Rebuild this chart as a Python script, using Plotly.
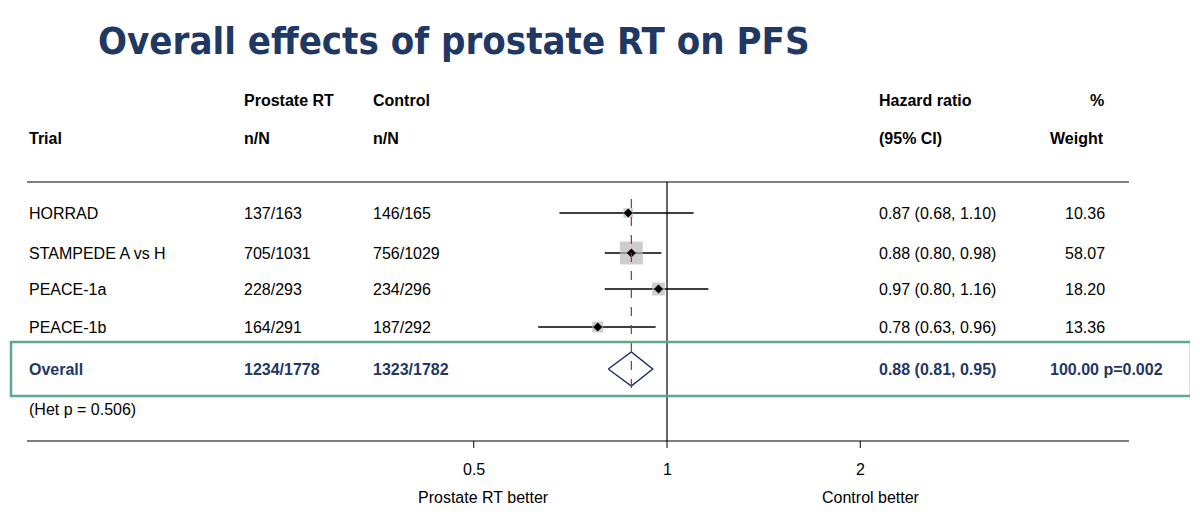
import plotly.graph_objects as go
import math

trials = ["HORRAD", "STAMPEDE A vs H", "PEACE-1a", "PEACE-1b"]
rt_nN = ["137/163", "705/1031", "228/293", "164/291"]
ctl_nN = ["146/165", "756/1029", "234/296", "187/292"]
hr = [0.87, 0.88, 0.97, 0.78]
lo = [0.68, 0.80, 0.80, 0.63]
hi = [1.10, 0.98, 1.16, 0.96]
weight = [10.36, 58.07, 18.20, 13.36]
overall = {"name": "Overall", "rt": "1234/1778", "ctl": "1323/1782",
           "hr": 0.88, "lo": 0.81, "hi": 0.95, "w": 100.00, "p": "p=0.002"}
het_text = "(Het p = 0.506)"
ticks = [0.5, 1, 2]

row_y = [214, 254, 290, 328]
oy = 370
OFF = 9  # page body margin
W, H = 1200 - 2 * OFF, 525 - 2 * OFF
NAVY = "#1f3864"
FONT = "Liberation Sans, Arial, sans-serif"

def px(x):
    return (x - OFF) / W

fig = go.Figure()
xs, ys = [], []
for l, h, y in zip(lo, hi, row_y):
    xs += [l, h, None]; ys += [y, y, None]
fig.add_trace(go.Scatter(x=xs, y=ys, mode="lines", line=dict(color="black", width=1.5), hoverinfo="skip"))
fig.add_trace(go.Scatter(x=hr, y=row_y, mode="markers",
                         marker=dict(symbol="square", color="#b8b8b8", size=[3.0 * math.sqrt(w) for w in weight], line=dict(width=0))))
fig.add_trace(go.Scatter(x=hr, y=row_y, mode="markers",
                         marker=dict(symbol="diamond", color="black", size=7)))
fig.add_trace(go.Scatter(x=[overall["lo"], overall["hr"], overall["hi"], overall["hr"], overall["lo"]],
                         y=[oy, oy - 17, oy, oy + 17, oy], mode="lines",
                         line=dict(color=NAVY, width=1.5)))

shapes = [
    dict(type="line", xref="paper", yref="y", x0=px(28), x1=px(1130), y0=183, y1=183, line=dict(color="black", width=1.2)),
    dict(type="line", xref="paper", yref="y", x0=px(28), x1=px(1130), y0=442, y1=442, line=dict(color="black", width=1.2)),
    dict(type="line", xref="x", yref="y", x0=1, x1=1, y0=183, y1=442, line=dict(color="black", width=1.2)),
    dict(type="line", xref="x", yref="y", x0=overall["hr"], x1=overall["hr"], y0=200, y1=392,
         line=dict(color="#a03030", width=1.2, dash="dash")),
    dict(type="rect", xref="paper", yref="y", x0=px(12), x1=px(1192), y0=343, y1=397, line=dict(color="#5aab8a", width=2.5)),
]
for t in ticks:
    shapes.append(dict(type="line", xref="x", yref="y", x0=t, x1=t, y0=442, y1=449, line=dict(color="black", width=1)))

ann = []
def txt(x, y, s, anchor="left", bold=False, color="black", size=16, xref="paper"):
    ann.append(dict(x=px(x) if xref == "paper" else x, y=y, xref=xref, yref="y", text=f"<b>{s}</b>" if bold else s,
                    showarrow=False, xanchor=anchor, yanchor="middle",
                    font=dict(family=FONT, size=size, color=color)))

ann.append(dict(x=px(97), y=42, xref="paper", yref="y", text="<b>Overall effects of prostate RT on PFS</b>",
                showarrow=False, xanchor="left", yanchor="middle",
                font=dict(family="DejaVu Sans Condensed, Liberation Sans Narrow, sans-serif", size=38, color=NAVY)))
txt(243, 101, "Prostate RT", bold=True); txt(372, 101, "Control", bold=True)
txt(878, 101, "Hazard ratio", bold=True); txt(1098, 101, "%", bold=True, anchor="center")
txt(28, 139, "Trial", bold=True); txt(243, 139, "n/N", bold=True); txt(372, 139, "n/N", bold=True)
txt(878, 139, "(95% CI)", bold=True); txt(1049, 139, "Weight", bold=True)
for i, y in enumerate(row_y):
    txt(28, y, trials[i]); txt(243, y, rt_nN[i]); txt(372, y, ctl_nN[i])
    txt(878, y, f"{hr[i]:.2f} ({lo[i]:.2f}, {hi[i]:.2f})")
    txt(1108, y, f"{weight[i]:.2f}", anchor="right")
txt(28, oy, overall["name"], bold=True, color=NAVY); txt(243, oy, overall["rt"], bold=True, color=NAVY)
txt(372, oy, overall["ctl"], bold=True, color=NAVY)
txt(878, oy, f"{overall['hr']:.2f} ({overall['lo']:.2f}, {overall['hi']:.2f})", bold=True, color=NAVY)
txt(1049, oy, f"{overall['w']:.2f} {overall['p']}", bold=True, color=NAVY)
txt(28, 410, het_text)
for t in ticks:
    txt(math.log10(t), 470, f"{t:g}", anchor="center", xref="x")
txt(484, 498, "Prostate RT better", anchor="center")
txt(872, 498, "Control better", anchor="center")

x0 = (OFF - 668) / 642.0
x1 = (OFF + W - 668) / 642.0
fig.update_layout(width=W, height=H, margin=dict(l=0, r=0, t=0, b=0), showlegend=False,
                  plot_bgcolor="white", paper_bgcolor="white", shapes=shapes, annotations=ann,
                  xaxis=dict(type="log", range=[x0, x1], visible=False, domain=[0, 1]),
                  yaxis=dict(range=[OFF + H, OFF], visible=False, domain=[0, 1]))
fig.write_html("out.html")
